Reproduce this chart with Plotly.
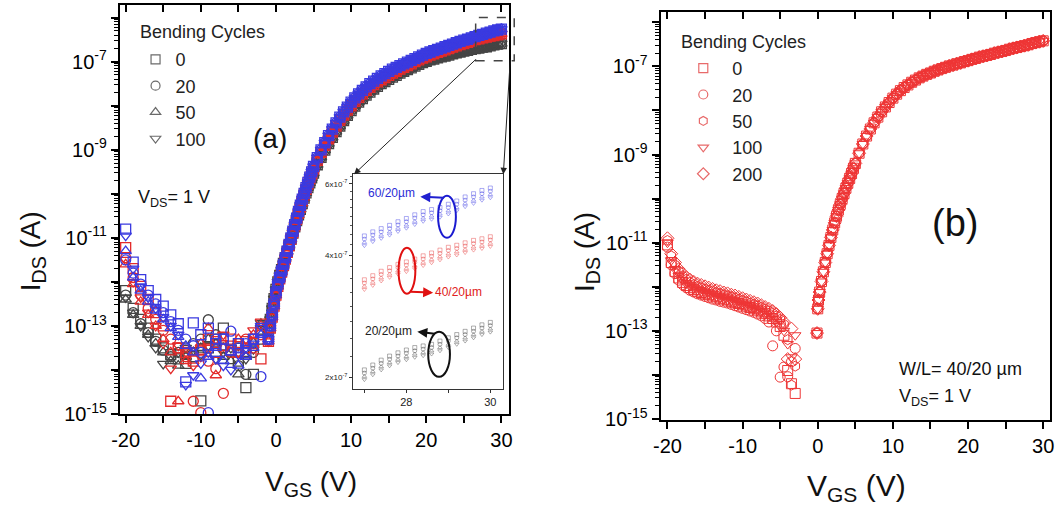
import numpy as np
import plotly.graph_objects as go

W, H = 1063, 518
FONT = "Liberation Sans, Arial, sans-serif"


def px(x):
    return x / W


def py(y):
    return 1 - y / H


# ---------------- DATA (log10 of I_DS in A) ----------------
CYCLES_A = ["0", "20", "50", "100"]
CYCLES_B = ["0", "20", "50", "100", "200"]

# panel (a): off-state part, V_GS = -20 ... -2 V
V_OFF_A = [-20, -19, -18, -17, -16, -15, -14, -13, -12, -11, -10, -9, -8, -7, -6, -5, -4, -3, -2]
OFF_20 = [
    [-12.2, -12.6, -12.85, -13.05, -13.3, -13.5, -13.65, -13.75, -13.85, -13.7, -14.7, -13.5, -13.3, -13.05, -13.55, -13.8, -14.4, -14.1, -13.3],
    [-12.3, -12.7, -12.95, -13.15, -13.35, -13.55, -13.7, -13.6, -13.5, -13.4, -13.3, -12.86, -13.2, -13.5, -13.6, -13.9, -14.1, -13.6, -13.1],
    [-12.4, -12.75, -13.0, -13.2, -13.4, -13.6, -13.8, -13.9, -13.7, -13.6, -13.5, -13.3, -13.4, -13.7, -13.8, -14.1, -13.7, -13.38, -12.95],
    [-12.35, -12.7, -13.0, -13.25, -13.5, -13.86, -13.7, -13.6, -13.5, -13.55, -13.65, -13.45, -13.75, -13.6, -13.5, -13.45, -13.75, -13.53, -12.93],
]
OFF_40 = [
    [-11.22, -11.7, -12.1, -12.4, -12.7, -13.0, -14.71, -13.5, -13.6, -13.8, -13.55, -13.3, -13.6, -13.45, -13.3, -13.6, -13.5, -13.4, -13.75],
    [-11.45, -11.9, -12.3, -12.6, -12.85, -13.1, -13.3, -13.5, -13.7, -14.71, -14.97, -13.8, -13.97, -14.53, -13.6, -13.4, -13.3, -13.5, -13.2],
    [-11.6, -12.05, -12.45, -12.75, -13.0, -13.3, -13.6, -14.71, -13.8, -13.6, -13.4, -13.05, -14.12, -13.5, -13.6, -13.3, -13.55, -13.2, -13.0],
    [-11.5, -12.0, -12.35, -12.7, -13.0, -13.4, -13.97, -13.45, -13.6, -13.9, -13.7, -13.5, -13.3, -13.2, -13.4, -13.6, -13.3, -13.1, -12.9],
]
OFF_60 = [
    [-10.8, -11.55, -11.95, -12.2, -12.4, -12.55, -12.75, -12.95, -14.27, -12.93, -13.2, -13.05, -13.4, -13.3, -13.55, -13.4, -13.6, -13.3, -13.1],
    [-11.5, -11.8, -12.05, -12.3, -12.5, -12.7, -12.9, -13.1, -13.3, -13.45, -13.6, -14.97, -13.3, -13.3, -13.12, -13.5, -13.4, -13.3, -14.15],
    [-11.3, -11.9, -12.2, -12.45, -12.65, -12.85, -13.05, -13.25, -13.45, -13.6, -14.19, -13.7, -13.5, -13.8, -13.6, -13.9, -13.7, -13.5, -13.2],
    [-10.95, -11.7, -12.1, -12.35, -12.6, -12.8, -13.0, -13.2, -14.34, -14.12, -13.85, -13.6, -13.75, -13.9, -14.0, -13.65, -13.5, -13.4, -13.0],
]

# panel (a): on-state part (all bending cycles overlap)
V_ON_A = [-1, -0.75, -0.5, -0.25, 0, 0.25, 0.5, 0.75, 1, 1.25, 1.5, 1.75, 2, 2.25, 2.5, 2.75, 3, 3.25,
          3.5, 3.75, 4, 4.25, 4.5, 4.75, 5,
          5.5, 6, 6.5, 7, 7.5, 8, 8.5, 9, 9.5, 10, 10.5, 11, 11.5, 12,
          12.5, 13, 13.5, 14, 14.5, 15, 15.5, 16, 16.5, 17, 17.5, 18, 18.5, 19, 19.5, 20, 20.5, 21,
          21.5, 22, 22.5, 23, 23.5, 24, 24.5, 25, 25.5, 26, 26.5, 27, 27.5, 28, 28.5, 29, 29.5, 30]
ON_60 = [-13.3, -13.0, -12.75, -12.5, -12.25, -12.05, -11.9, -11.75, -11.6, -11.45, -11.3, -11.15, -11.0,
         -10.85, -10.7, -10.55, -10.4, -10.26, -10.12, -9.99, -9.86, -9.74, -9.62, -9.5, -9.38,
         -9.18, -9.0, -8.84, -8.68, -8.53, -8.39, -8.26, -8.14, -8.03, -7.92, -7.82, -7.73, -7.65, -7.57,
         -7.50, -7.44, -7.38, -7.32, -7.27, -7.22, -7.17, -7.13, -7.09, -7.05, -7.01, -6.97, -6.93, -6.89,
         -6.85, -6.81, -6.78, -6.75, -6.72, -6.69, -6.66, -6.63, -6.60, -6.57, -6.54, -6.51, -6.49, -6.46,
         -6.43, -6.40, -6.38, -6.35, -6.33, -6.30, -6.28, -6.26]
ON_40 = [-13.35, -13.05, -12.8, -12.55, -12.3, -12.1, -11.93, -11.78, -11.63, -11.48, -11.33, -11.18, -11.03,
         -10.88, -10.73, -10.58, -10.44, -10.3, -10.16, -10.03, -9.9, -9.78, -9.66, -9.55, -9.44,
         -9.24, -9.06, -8.9, -8.75, -8.6, -8.46, -8.33, -8.21, -8.1, -8.0, -7.9, -7.81, -7.73, -7.65,
         -7.58, -7.52, -7.46, -7.41, -7.36, -7.31, -7.26, -7.22, -7.17, -7.13, -7.09, -7.05, -7.0, -6.96,
         -6.92, -6.89, -6.85, -6.82, -6.79, -6.76, -6.73, -6.7, -6.67, -6.64, -6.61, -6.59, -6.56, -6.53,
         -6.5, -6.48, -6.46, -6.44, -6.42, -6.41, -6.39, -6.37]
ON_20 = [-13.1, -12.85, -12.6, -12.38, -12.17, -12.0, -11.85, -11.72, -11.58, -11.45, -11.31, -11.17, -11.03,
         -10.89, -10.75, -10.61, -10.48, -10.35, -10.22, -10.1, -9.98, -9.86, -9.75, -9.64, -9.53,
         -9.34, -9.17, -9.01, -8.86, -8.72, -8.59, -8.46, -8.34, -8.22, -8.11, -8.01, -7.92, -7.84, -7.76,
         -7.69, -7.62, -7.56, -7.5, -7.45, -7.4, -7.35, -7.31, -7.26, -7.22, -7.18, -7.14, -7.1, -7.06,
         -7.02, -6.99, -6.96, -6.94, -6.91, -6.89, -6.87, -6.85, -6.82, -6.80, -6.78, -6.76, -6.74, -6.72,
         -6.7, -6.69, -6.67, -6.66, -6.64, -6.62, -6.6, -6.59]

# inset of panel (a): zoom 27-30 V
V_INSET = [27.0, 27.2, 27.4, 27.6, 27.8, 28.0, 28.2, 28.4, 28.6, 28.8, 29.0, 29.2, 29.4, 29.6, 29.8, 30.0]
INSET_60 = [
    [-6.350, -6.340, -6.332, -6.324, -6.315, -6.307, -6.298, -6.290, -6.285, -6.280, -6.272, -6.264, -6.254, -6.246, -6.238, -6.232],
    [-6.358, -6.348, -6.340, -6.332, -6.323, -6.315, -6.306, -6.298, -6.293, -6.288, -6.280, -6.272, -6.262, -6.254, -6.246, -6.240],
    [-6.366, -6.356, -6.348, -6.340, -6.331, -6.323, -6.314, -6.306, -6.301, -6.296, -6.288, -6.280, -6.270, -6.262, -6.254, -6.248],
    [-6.374, -6.364, -6.356, -6.348, -6.339, -6.331, -6.322, -6.314, -6.309, -6.304, -6.296, -6.288, -6.278, -6.270, -6.262, -6.256],
]
INSET_40 = [
    [-6.458, -6.448, -6.437, -6.428, -6.420, -6.414, -6.407, -6.399, -6.392, -6.385, -6.378, -6.373, -6.367, -6.361, -6.357, -6.352],
    [-6.466, -6.456, -6.445, -6.436, -6.428, -6.422, -6.415, -6.407, -6.400, -6.393, -6.386, -6.381, -6.375, -6.369, -6.365, -6.360],
    [-6.474, -6.464, -6.453, -6.444, -6.436, -6.430, -6.423, -6.415, -6.408, -6.401, -6.394, -6.389, -6.383, -6.377, -6.373, -6.368],
    [-6.482, -6.472, -6.461, -6.452, -6.444, -6.438, -6.431, -6.423, -6.416, -6.409, -6.402, -6.397, -6.391, -6.385, -6.381, -6.376],
]
INSET_20 = [
    [-6.680, -6.668, -6.656, -6.646, -6.638, -6.631, -6.625, -6.621, -6.617, -6.609, -6.601, -6.593, -6.585, -6.577, -6.569, -6.563],
    [-6.688, -6.676, -6.664, -6.654, -6.646, -6.639, -6.633, -6.629, -6.625, -6.617, -6.609, -6.601, -6.593, -6.585, -6.577, -6.571],
    [-6.696, -6.684, -6.672, -6.662, -6.654, -6.647, -6.641, -6.637, -6.633, -6.625, -6.617, -6.609, -6.601, -6.593, -6.585, -6.579],
    [-6.704, -6.692, -6.680, -6.670, -6.662, -6.655, -6.649, -6.645, -6.641, -6.633, -6.625, -6.617, -6.609, -6.601, -6.593, -6.587],
]

# panel (b): W/L = 40/20 um, off-state part
V_OFF_B = [-20, -19.5, -19, -18.5, -18, -17.5, -17, -16.5, -16, -15.5, -15, -14.5, -14, -13.5, -13, -12.5,
           -12, -11.5, -11, -10.5, -10, -9.5, -9, -8.5, -8, -7.5, -7, -6.5, -6, -5.5, -5, -4.5, -4, -3.5, -3]
OFF_B = [
    [-11.05, -11.45, -11.65, -11.8, -11.9, -11.97, -12.02, -12.06, -12.1, -12.13, -12.16, -12.18, -12.21, -12.23, -12.26, -12.28,
     -12.3, -12.33, -12.36, -12.38, -12.41, -12.44, -12.47, -12.5, -12.53, -12.57, -12.61, -12.66, -12.72, -12.8, -12.9, -13.1, -13.9, -14.2, -14.42],
    [-11.1, -11.5, -11.7, -11.85, -11.95, -12.02, -12.08, -12.12, -12.16, -12.19, -12.22, -12.25, -12.28, -12.3, -12.33, -12.35,
     -12.37, -12.4, -12.43, -12.46, -12.49, -12.52, -12.55, -12.58, -12.62, -12.66, -12.72, -12.8, -13.34, -13.0, -14.05, -13.82, -14.04, -13.7, -13.4],
    [-10.95, -11.3, -11.5, -11.65, -11.75, -11.83, -11.9, -11.95, -11.99, -12.02, -12.05, -12.08, -12.1, -12.13, -12.15, -12.18,
     -12.2, -12.22, -12.25, -12.28, -12.31, -12.34, -12.37, -12.4, -12.43, -12.47, -12.51, -12.55, -12.6, -12.66, -12.74, -12.85, -13.2, -14.23, -13.8],
    [-11.0, -11.4, -11.6, -11.75, -11.85, -11.93, -11.99, -12.04, -12.08, -12.11, -12.14, -12.17, -12.2, -12.22, -12.25, -12.27,
     -12.3, -12.32, -12.35, -12.38, -12.41, -12.44, -12.47, -12.5, -12.54, -12.58, -12.62, -12.67, -12.73, -12.8, -12.9, -13.0, -13.3, -13.6, -13.1],
    [-10.9, -11.25, -11.45, -11.6, -11.7, -11.78, -11.84, -11.89, -11.93, -11.96, -11.99, -12.02, -12.05, -12.08, -12.1, -12.13,
     -12.15, -12.18, -12.2, -12.23, -12.26, -12.29, -12.32, -12.35, -12.38, -12.42, -12.46, -12.5, -12.55, -12.62, -12.7, -12.8, -13.64, -12.95, -13.64],
]
# panel (b): on-state part (all bending cycles overlap)
V_ON_B = [-0.1, 0, 0.1, 0.25, 0.5, 0.75, 1, 1.25, 1.5, 1.75, 2, 2.25, 2.5, 2.75, 3, 3.25, 3.5, 3.75, 4, 4.25,
          4.5, 4.75, 5,
          5.5, 6, 6.5, 7, 7.5, 8, 8.5, 9, 9.5, 10, 10.5, 11, 11.5, 12,
          12.5, 13, 13.5, 14, 14.5, 15, 15.5, 16, 16.5, 17, 17.5, 18, 18.5, 19, 19.5, 20, 20.5, 21,
          21.5, 22, 22.5, 23, 23.5, 24, 24.5, 25, 25.5, 26, 26.5, 27, 27.5, 28, 28.5, 29, 29.5, 30]
ON_B = [-13.05, -12.5, -12.3, -12.12, -11.88, -11.66, -11.45, -11.25, -11.06, -10.88, -10.71, -10.55, -10.4,
        -10.26, -10.13, -10.0, -9.88, -9.76, -9.65, -9.54, -9.43, -9.31, -9.2,
        -8.97, -8.76, -8.58, -8.42, -8.28, -8.15, -8.03, -7.92, -7.82, -7.72, -7.63, -7.55, -7.48, -7.42,
        -7.36, -7.31, -7.26, -7.22, -7.18, -7.15, -7.11, -7.08, -7.05, -7.02, -6.99, -6.97, -6.94, -6.92,
        -6.89, -6.87, -6.84, -6.82, -6.79, -6.77, -6.75, -6.73, -6.7, -6.68, -6.66, -6.64, -6.61, -6.59,
        -6.57, -6.55, -6.53, -6.51, -6.48, -6.46, -6.44, -6.42]

X_TICKS = [-20, -15, -10, -5, 0, 5, 10, 15, 20, 25, 30]
X_TICKTEXT = ["-20", "", "-10", "", "0", "", "10", "", "20", "", "30"]
Y_DECADES = list(range(-15, -5))

# ---------------- FIGURE ----------------
SYMS_A = ["square-open", "circle-open", "triangle-up-open", "triangle-down-open"]
SYMS_B = ["square-open", "circle-open", "hexagon-open", "triangle-down-open", "diamond-open"]
COL_20, COL_40, COL_60 = "#454545", "#e32b2b", "#3a3ae0"
COL_B = "#ee3535"

fig = go.Figure()

for offs, on, col in [(OFF_20, ON_20, COL_20), (OFF_40, ON_40, COL_40), (OFF_60, ON_60, COL_60)]:
    for sym, off in zip(SYMS_A, offs):
        fig.add_trace(go.Scatter(
            x=V_OFF_A + V_ON_A, y=10.0 ** np.array(off + on), mode="markers",
            marker=dict(symbol=sym, size=10, color=col, line=dict(width=1.3, color=col)),
            xaxis="x", yaxis="y", showlegend=False, hoverinfo="skip"))

inset_cols = ["rgba(70,70,70,0.55)", "rgba(230,60,60,0.55)", "rgba(80,80,230,0.6)"]
for sets, col in zip([INSET_20, INSET_40, INSET_60], inset_cols):
    for sym, vals in zip(SYMS_A, sets):
        fig.add_trace(go.Scatter(
            x=V_INSET, y=10.0 ** np.array(vals), mode="markers",
            marker=dict(symbol=sym, size=4, color=col, line=dict(width=0.8, color=col)),
            xaxis="x3", yaxis="y3", showlegend=False, hoverinfo="skip"))

for sym, off in zip(SYMS_B, OFF_B):
    fig.add_trace(go.Scatter(
        x=V_OFF_B + V_ON_B, y=10.0 ** np.array(off + ON_B), mode="markers",
        marker=dict(symbol=sym, size=10, color=COL_B, line=dict(width=1.0, color=COL_B)),
        xaxis="x2", yaxis="y2", showlegend=False, hoverinfo="skip"))

# legend entries
for sym, name in zip(SYMS_A, CYCLES_A):
    fig.add_trace(go.Scatter(x=[None], y=[None], mode="markers", name=name, legend="legend",
                             marker=dict(symbol=sym, size=9, color="#6a6a6a", line=dict(width=1.2, color="#6a6a6a")),
                             xaxis="x", yaxis="y"))
for sym, name in zip(SYMS_B, CYCLES_B):
    fig.add_trace(go.Scatter(x=[None], y=[None], mode="markers", name="\u2002" + name, legend="legend2",
                             marker=dict(symbol=sym, size=9, color="#e86a6a", line=dict(width=1.2, color="#e86a6a")),
                             xaxis="x2", yaxis="y2"))

# helper traces so the top tick axes are drawn
fig.add_trace(go.Scatter(x=[None], y=[None], xaxis="x4", yaxis="y", showlegend=False, hoverinfo="skip"))
fig.add_trace(go.Scatter(x=[None], y=[None], xaxis="x5", yaxis="y2", showlegend=False, hoverinfo="skip"))

tickfont = dict(family=FONT, size=20, color="black")
minor_log = [k * 10.0 ** e for e in range(-16, -4) for k in range(2, 10)]


def xax(domain, rng, anchor):
    return dict(domain=domain, range=rng, anchor=anchor, showline=True, linewidth=2, linecolor="black",
                mirror=True, ticks="outside", ticklen=7, tickwidth=2, tickcolor="black",
                tickmode="array", tickvals=X_TICKS, ticktext=X_TICKTEXT, tickfont=tickfont,
                showgrid=False, zeroline=False)


def yax(domain, rng, anchor):
    return dict(domain=domain, type="log", range=rng, anchor=anchor, showline=True, linewidth=2,
                linecolor="black", mirror=True, ticks="outside", ticklen=7, tickwidth=2, tickcolor="black",
                tickmode="array", tickvals=[10.0 ** e for e in Y_DECADES],
                ticktext=["10<sup>%d</sup>" % e if e % 2 else "" for e in Y_DECADES],
                tickfont=tickfont, showgrid=False, zeroline=False,
                minor=dict(tickmode="array", tickvals=minor_log, ticks="outside", ticklen=4,
                           tickwidth=1, tickcolor="black"))


def topax(over, anchor, rng):
    return dict(overlaying=over, side="top", anchor=anchor, range=rng, tickmode="array", tickvals=X_TICKS,
                ticks="inside", ticklen=7, tickwidth=2, tickcolor="black", showticklabels=False,
                showline=False, showgrid=False, zeroline=False)


XR_A = [-20.79, 31.05]
XR_B = [-20.92, 30.92]
legfont = dict(family=FONT, size=18, color="#222")

fig.update_layout(
    width=W, height=H, autosize=False, margin=dict(l=0, r=0, t=0, b=0),
    paper_bgcolor="white", plot_bgcolor="white", font=dict(family=FONT, color="#111"),
    xaxis=xax([px(113), px(507)], XR_A, "y"),
    yaxis=yax([py(423), py(5)], [-15, -5.71], "x"),
    xaxis2=xax([px(660), px(1054)], XR_B, "y2"),
    yaxis2=yax([py(429), py(12)], [-15.02, -5.76], "x2"),
    xaxis3=dict(domain=[px(349), px(501)], range=[26.73, 30.31], anchor="y3", showline=True, linewidth=1,
                linecolor="#333", mirror=True, ticks="outside", ticklen=3, tickwidth=1, tickcolor="#333",
                tickmode="array", tickvals=[27, 28, 29, 30], ticktext=["", "28", "", "30"],
                tickfont=dict(family=FONT, size=11, color="#222"), showgrid=False, zeroline=False),
    yaxis3=dict(domain=[py(397), py(178)], type="log", range=[-6.726, -6.198], anchor="x3", showline=True,
                linewidth=1, linecolor="#333", mirror=True, ticks="outside", ticklen=3, tickwidth=1,
                tickcolor="#333", tickmode="array", tickvals=[2e-7, 4e-7, 6e-7],
                ticktext=["2x10<sup>-7</sup>", "4x10<sup>-7</sup>", "6x10<sup>-7</sup>"],
                tickfont=dict(family=FONT, size=8, color="#222"), showgrid=False, zeroline=False,
                minor=dict(tickmode="array", tickvals=[k * 2.5e-8 for k in range(7, 27) if k not in (8, 16, 24)],
                           ticks="outside", ticklen=2, tickwidth=1, tickcolor="#555")),
    xaxis4=topax("x", "y", XR_A),
    xaxis5=topax("x2", "y2", XR_B),
    legend=dict(x=px(129), y=py(42), xanchor="left", yanchor="top", bgcolor="rgba(0,0,0,0)",
                font=legfont, itemwidth=30, tracegroupgap=0),
    legend2=dict(x=px(683), y=py(51), xanchor="left", yanchor="top", bgcolor="rgba(0,0,0,0)",
                 font=legfont, itemwidth=30, tracegroupgap=0),
)

ann = []


def text(t, x, y, size, color="#111", xanchor="center", angle=0):
    ann.append(dict(text=t, x=px(x), y=py(y), xref="paper", yref="paper", showarrow=False,
                    xanchor=xanchor, yanchor="middle", textangle=angle,
                    font=dict(family=FONT, size=size, color=color)))


def arrow(hx, hy, tx, ty, color, width, size=1.0):
    ann.append(dict(text="", x=px(hx), y=py(hy), xref="paper", yref="paper", showarrow=True,
                    ax=tx - hx, ay=ty - hy, axref="pixel", ayref="pixel", arrowhead=2,
                    arrowsize=size, arrowwidth=width, arrowcolor=color, standoff=0, startstandoff=0))


text("Bending Cycles", 131, 33, 18, color="#222", xanchor="left")
text("Bending Cycles", 679, 43, 18, color="#222", xanchor="left")
text("(a)", 265, 142, 28)
text("V<sub>DS</sub>= 1 V", 129, 203, 18, xanchor="left")
text("(b)", 958, 228, 38)
text("W/L= 40/20 µm", 899, 377, 18, xanchor="left")
text("V<sub>DS</sub>= 1 V", 899, 406, 18, xanchor="left")
text("I<sub>DS</sub> (A)", 25, 257, 28, angle=-90)
text("I<sub>DS</sub> (A)", 585, 257, 28, angle=-90)
text("V<sub>GS</sub> (V)", 306, 494, 28)
text("V<sub>GS</sub> (V)", 858, 498, 30)
text("60/20µm", 414, 197, 12, color="#2b2bd6", xanchor="right")
text("40/20µm", 430, 298, 12, color="#e02020", xanchor="left")
text("20/20µm", 411, 338, 12, color="#222", xanchor="right")

arrow(350, 178, 473, 62, "#222", 1.0, 1.3)
arrow(501, 178, 508, 62, "#222", 1.0, 1.3)
arrow(417, 201, 442, 202, "#2020d0", 2.0, 1.0)
arrow(430, 299, 406, 298, "#e01010", 2.0, 1.0)
arrow(414, 339, 433, 341, "#111", 2.0, 1.0)

fig.update_layout(annotations=ann)

shapes = [
    dict(type="rect", xref="paper", yref="paper", x0=px(473), x1=px(512), y0=py(62), y1=py(18),
         line=dict(color="#444", width=1.5, dash="dash")),
    dict(type="circle", xref="paper", yref="paper", x0=px(435), x1=px(453), y0=py(243), y1=py(200),
         line=dict(color="#1a1ad0", width=2)),
    dict(type="circle", xref="paper", yref="paper", x0=px(395), x1=px(412), y0=py(300), y1=py(253),
         line=dict(color="#e01010", width=2)),
    dict(type="circle", xref="paper", yref="paper", x0=px(425), x1=px(447), y0=py(385), y1=py(339),
         line=dict(color="#111", width=2)),
]
fig.update_layout(shapes=shapes)

# remove the default page margin so the figure sits at the window's top-left corner
fig.write_html("out.html", config={"displayModeBar": False},
               post_script="document.body.style.margin='0px';document.body.style.overflow='hidden';")
